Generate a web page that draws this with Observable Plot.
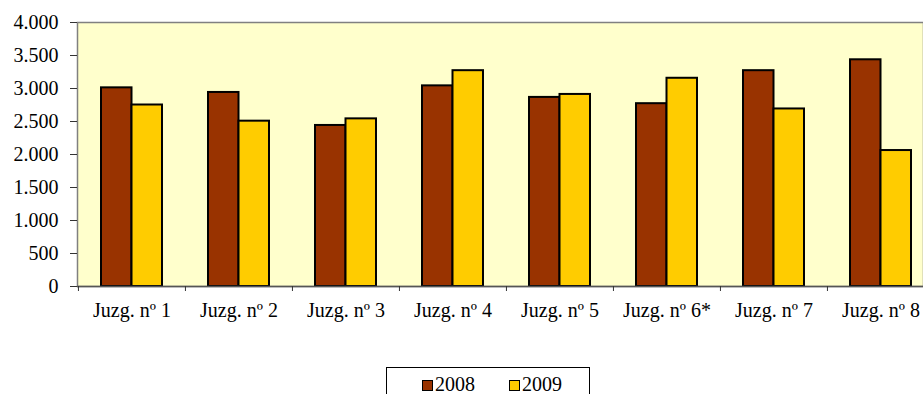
<!DOCTYPE html>
<html>
<head>
<meta charset="utf-8">
<script src="https://cdn.jsdelivr.net/npm/d3@7"></script>
<script src="https://cdn.jsdelivr.net/npm/@observablehq/plot@0.6"></script>
<style>
  html, body { margin: 0; padding: 0; background: #fff; }
  #wrap { position: relative; width: 923px; height: 394px; overflow: hidden; font-family: "Liberation Serif", "Times New Roman", serif; }
  #legend { position: absolute; left: 386px; top: 367px; width: 204px; height: 40px; border: 1px solid #000; background: #fff; box-sizing: border-box; }
  .item { position: absolute; top: 7px; font-size: 20px; line-height: 18px; color: #000; font-weight: normal; white-space: nowrap; }
  .sw { display: inline-block; width: 9px; height: 9px; border: 1.5px solid #000; margin-right: 2px; vertical-align: 0px; }
  #chart svg text { font-weight: normal; }
</style>
</head>
<body>
<div id="wrap">
  <div id="chart"></div>
  <div id="legend"></div>
</div>
<script>
const categories = ["Juzg. nº 1", "Juzg. nº 2", "Juzg. nº 3", "Juzg. nº 4", "Juzg. nº 5", "Juzg. nº 6*", "Juzg. nº 7", "Juzg. nº 8"];
const values2008 = [3010, 2940, 2440, 3040, 2865, 2770, 3270, 3435];
const values2009 = [2750, 2505, 2540, 3270, 2910, 3155, 2690, 2060];
const yTicks = [0, 500, 1000, 1500, 2000, 2500, 3000, 3500, 4000];
const seriesNames = ["2008", "2009"];
const seriesColors = ["#993300", "#FFCC00"];

const d08 = categories.map((c, i) => ({cat: c, value: values2008[i]}));
const d09 = categories.map((c, i) => ({cat: c, value: values2009[i]}));

const xRange = [77, 934];
const step = (xRange[1] - xRange[0]) / categories.length;
const fmt = d => d3.format(",")(d).replace(/,/g, ".");
const font = "Liberation Serif, Times New Roman, serif";

const chart = Plot.plot({
  width: 923,
  height: 360,
  marginLeft: 77,
  marginTop: 22,
  marginBottom: 74,
  marginRight: 0,
  style: {fontFamily: font, fontSize: "20px", color: "#000", background: "transparent"},
  x: {domain: categories, range: xRange, paddingInner: 0.43, paddingOuter: 0.215, axis: null, label: null},
  y: {domain: [0, 4000], axis: null, label: null},
  marks: [
    Plot.frame({fill: "#FFFFCC", stroke: "#808080", strokeWidth: 1.5}),
    Plot.barY(d08, {x: "cat", y: "value", fill: seriesColors[0], stroke: "#000", strokeWidth: 2, insetRight: 30.5}),
    Plot.barY(d09, {x: "cat", y: "value", fill: seriesColors[1], stroke: "#000", strokeWidth: 2, insetLeft: 30.5}),
    Plot.ruleY([0], {stroke: "#555", strokeWidth: 1.5}),
    Plot.axisY({ticks: yTicks, tickFormat: fmt, tickSize: 7, tickPadding: 12, fontSize: 20, stroke: "#333", label: null}),
    Plot.axisX({tickSize: 5, tickFormat: () => "", dx: -step / 2, stroke: "#333", label: null}),
    Plot.axisX({tickSize: 0, tickPadding: 16, fontSize: 20, label: null})
  ]
});
document.getElementById("chart").appendChild(chart);

const legend = document.getElementById("legend");
const lefts = [35, 122];
seriesNames.forEach((name, i) => {
  const it = document.createElement("div");
  it.className = "item";
  it.style.left = lefts[i] + "px";
  it.innerHTML = `<span class="sw" style="background:${seriesColors[i]}"></span>${name}`;
  legend.appendChild(it);
});
</script>
</body>
</html>
